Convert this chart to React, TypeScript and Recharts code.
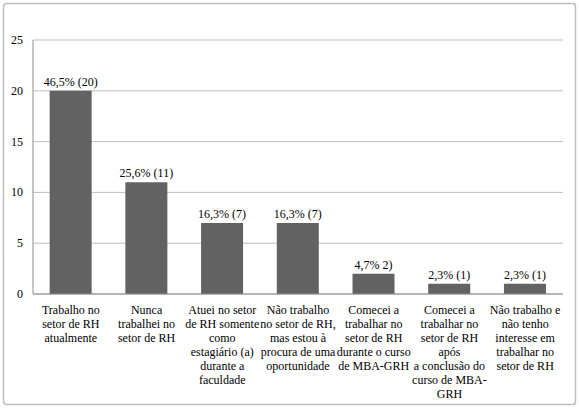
import React from 'react';
import { BarChart, Bar, XAxis, YAxis, CartesianGrid, LabelList } from 'recharts';

const categories: string[][] = [
  ['Trabalho no', 'setor de RH', 'atualmente'],
  ['Nunca', 'trabalhei no', 'setor de RH'],
  ['Atuei no setor', 'de RH somente', 'como', 'estagiário (a)', 'durante a', 'faculdade'],
  ['Não trabalho', 'no setor de RH,', 'mas estou à', 'procura de uma', 'oportunidade'],
  ['Comecei a', 'trabalhar no', 'setor de RH', 'durante o curso', 'de MBA-GRH'],
  ['Comecei a', 'trabalhar no', 'setor de RH', 'após', 'a conclusão do', 'curso de MBA-', 'GRH'],
  ['Não trabalho e', 'não tenho', 'interesse em', 'trabalhar no', 'setor de RH'],
];
const values: number[] = [20, 11, 7, 7, 2, 1, 1];
const barLabels: string[] = ['46,5% (20)', '25,6% (11)', '16,3% (7)', '16,3% (7)', '4,7% 2)', '2,3% (1)', '2,3% (1)'];
const yTicks: number[] = [0, 5, 10, 15, 20, 25];

const data = values.map((v, i) => ({ key: String(i), value: v, label: barLabels[i] }));

const textStyle: React.CSSProperties = { fontFamily: '"Liberation Serif"', fontSize: 12, fill: '#000' };

const CategoryTick = (props: any) => {
  const { x, y, payload } = props;
  const lines = categories[Number(payload.value)] || [];
  return (
    <text x={x} y={y} textAnchor="middle" style={textStyle}>
      {lines.map((l, i) => (
        <tspan key={i} x={x} dy={i === 0 ? 19.5 : 14}>
          {l}
        </tspan>
      ))}
    </text>
  );
};

const YTick = (props: any) => {
  const { x, y, payload } = props;
  return (
    <text x={x} y={y} dy={4} textAnchor="end" style={textStyle}>
      {payload.value}
    </text>
  );
};

const BarLabel = (props: any) => {
  const { x, y, width, value } = props;
  return (
    <text x={Number(x) + Number(width) / 2} y={Number(y) - 5} textAnchor="middle" style={textStyle}>
      {value}
    </text>
  );
};

export default function App() {
  return (
    <div style={{ position: 'absolute', left: 0, top: 0, width: 579, height: 409, background: '#fff' }}>
      <svg width={579} height={409} style={{ position: 'absolute', left: 0, top: 0 }}>
        <rect x={3.5} y={3.5} width={572} height={401} rx={3} ry={3} fill="#fff" stroke="#bdbdbd" strokeWidth={1.5} />
      </svg>
      <div style={{ position: 'absolute', left: 0, top: 0 }}>
        <BarChart
          width={579}
          height={409}
          data={data}
          margin={{ top: 40, right: 16, bottom: 85, left: 8 }}
          barCategoryGap="22%"
        >
          <CartesianGrid vertical={false} stroke="#bfbfbf" strokeWidth={1} />
          <XAxis
            dataKey="key"
            height={30}
            tick={<CategoryTick />}
            tickLine={false}
            axisLine={{ stroke: '#8c8c8c' }}
            interval={0}
            tickSize={0}
            tickMargin={0}
          />
          <YAxis
            width={25}
            domain={[0, 25]}
            ticks={yTicks}
            tickLine={false}
            axisLine={{ stroke: '#8c8c8c' }}
            tickSize={6}
            tickMargin={4}
            tick={<YTick />}
            interval={0}
          />
          <Bar dataKey="value" fill="#626262" isAnimationActive={false}>
            <LabelList dataKey="label" content={<BarLabel />} />
          </Bar>
        </BarChart>
      </div>
    </div>
  );
}
